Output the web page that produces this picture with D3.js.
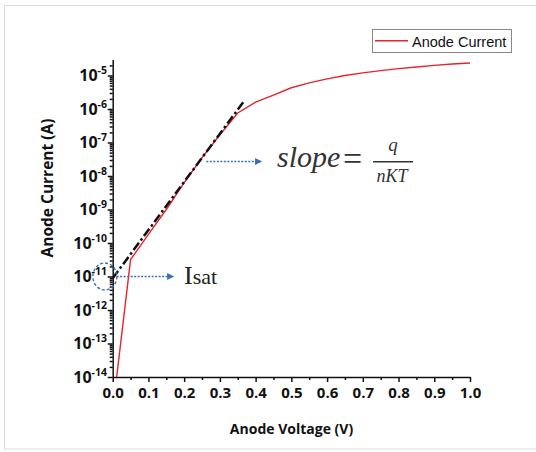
<!DOCTYPE html>
<html>
<head>
<meta charset="utf-8">
<script src="https://cdnjs.cloudflare.com/ajax/libs/d3/7.8.5/d3.min.js"></script>
<style>
body { margin: 0; background: #fff; }
svg { display: block; }
</style>
</head>
<body>
<div id="chart"></div>
<script>
// anode voltage (V) and measured anode current (A)
var voltage = [0, 0.05, 0.10, 0.15, 0.20, 0.25, 0.30, 0.35, 0.40, 0.45, 0.50,
               0.55, 0.60, 0.65, 0.70, 0.75, 0.80, 0.85, 0.90, 0.95, 1.00];
var current = [1e-15, 3.2e-11, 1.8e-10, 1.0e-9, 6.3e-9, 3.5e-8, 1.7e-7, 7.6e-7, 1.6e-6, 2.6e-6, 4.3e-6,
               6.0e-6, 7.9e-6, 1.0e-5, 1.2e-5, 1.4e-5, 1.6e-5, 1.8e-5, 2.0e-5, 2.2e-5, 2.35e-5];

// straight-line fit of the exponential region
var fitVoltage = [0, 0.37];
var fitCurrent = [8.9e-12, 1.86e-6];

// annotation arrows (data coords)
var isatVoltage = [0.011, 0.17];
var isatCurrent = 1e-11;
var slopeVoltage = [0.262, 0.416];
var slopeCurrent = 2.7e-8;

var xTicks = [0, 0.1, 0.2, 0.3, 0.4, 0.5, 0.6, 0.7, 0.8, 0.9, 1.0];
var yExponents = [-14, -13, -12, -11, -10, -9, -8, -7, -6, -5];
var seriesName = "Anode Current";

var width = 536, height = 452;
// plot area edges (note: "top" is taken by window.top, so prefix them)
var plotLeft = 112.7, plotRight = 470, plotTop = 59.5, plotBottom = 377;

var svg = d3.select("#chart").append("svg")
    .attr("width", width)
    .attr("height", height);

// light frame round the picture
svg.append("rect")
    .attr("x", 4.5).attr("y", 5.5)
    .attr("width", 540).attr("height", 443.5)
    .attr("fill", "none")
    .attr("stroke", "#dcdcdc");

var x = d3.scaleLinear().domain([0, 1]).range([plotLeft, plotRight]);
var y = d3.scaleLog().domain([1e-14, 3e-5]).range([plotBottom, plotTop]);

var defs = svg.append("defs");
defs.append("clipPath").attr("id", "plot")
  .append("rect")
    .attr("x", plotLeft).attr("y", plotTop)
    .attr("width", plotRight - plotLeft).attr("height", plotBottom - plotTop);

defs.append("marker")
    .attr("id", "arrow")
    .attr("viewBox", "0 0 10 10")
    .attr("refX", 9).attr("refY", 5)
    .attr("markerWidth", 5).attr("markerHeight", 5)
    .attr("markerUnits", "strokeWidth")
    .attr("orient", "auto")
  .append("path")
    .attr("d", "M0,0L10,5L0,10z")
    .attr("fill", "#3b70ad");

// minor ticks
var xMinor = xTicks.slice(0, -1).map(function(d) { return d + 0.05; });
var yMinor = [];
yExponents.forEach(function(e) {
  for (var m = 2; m <= 9; m++) {
    var v = m * Math.pow(10, e);
    if (v <= 3e-5) yMinor.push(v);
  }
});

svg.append("g")
    .attr("transform", "translate(0," + plotBottom + ")")
    .call(d3.axisBottom(x).tickValues(xMinor).tickSize(3).tickFormat(""))
    .call(function(g) { g.select(".domain").remove(); });

svg.append("g")
    .attr("transform", "translate(" + plotLeft + ",0)")
    .call(d3.axisLeft(y).tickValues(yMinor).tickSize(3).tickFormat(""))
    .call(function(g) { g.select(".domain").remove(); });

// x axis
var xAxis = svg.append("g")
    .attr("transform", "translate(0," + plotBottom + ")")
    .call(d3.axisBottom(x).tickValues(xTicks).tickSize(5).tickSizeOuter(0).tickFormat(d3.format(".1f")));
xAxis.selectAll("text")
    .attr("y", 10)
    .style("font-family", "'Open Sans', sans-serif")
    .style("font-weight", "bold")
    .style("font-size", "15px")
    .attr("fill", "#111");

// y axis, labels drawn as 10 with superscript
var yAxis = svg.append("g")
    .attr("transform", "translate(" + plotLeft + ",0)")
    .call(d3.axisLeft(y).tickValues(yExponents.map(function(e) { return Math.pow(10, e); }))
      .tickSize(5).tickSizeOuter(0).tickFormat(""));

svg.selectAll("path.domain, .tick line")
    .attr("stroke", "#111")
    .attr("stroke-width", 1.5);

var yLab = svg.append("g").selectAll("text")
    .data(yExponents)
  .enter().append("text")
    .attr("x", 107)
    .attr("y", function(d) { return y(Math.pow(10, d)); })
    .attr("dy", "0.36em")
    .attr("text-anchor", "end")
    .style("font-family", "'Open Sans', sans-serif")
    .style("font-weight", "bold")
    .style("font-size", "16px")
    .attr("fill", "#111");
yLab.append("tspan").text("10");
yLab.append("tspan")
    .attr("dy", -7)
    .style("font-size", "10.5px")
    .text(function(d) { return "-" + (-d); });

// axis titles
svg.append("text")
    .attr("x", 291.5).attr("y", 434)
    .attr("text-anchor", "middle")
    .style("font-family", "'Open Sans', sans-serif")
    .style("font-weight", "bold")
    .style("font-size", "14px")
    .attr("fill", "#111")
    .text("Anode Voltage (V)");

svg.append("text")
    .attr("transform", "translate(53,188) rotate(-90)")
    .attr("text-anchor", "middle")
    .style("font-family", "'Open Sans', sans-serif")
    .style("font-weight", "bold")
    .style("font-size", "15.5px")
    .attr("fill", "#111")
    .text("Anode Current (A)");

// data line
var pts = voltage.map(function(v, i) { return [v, current[i]]; });
var line = d3.line()
    .x(function(d) { return x(d[0]); })
    .y(function(d) { return y(d[1]); });

svg.append("path")
    .datum(pts)
    .attr("clip-path", "url(#plot)")
    .attr("fill", "none")
    .attr("stroke", "#e8232b")
    .attr("stroke-width", 1.4)
    .attr("d", line);

// fitted dash-dot line
svg.append("path")
    .datum(fitVoltage.map(function(v, i) { return [v, fitCurrent[i]]; }))
    .attr("fill", "none")
    .attr("stroke", "#111")
    .attr("stroke-width", 2.5)
    .attr("stroke-dasharray", "9,3,2.5,3")
    .attr("d", line);

// Isat circle + arrow
svg.append("ellipse")
    .attr("cx", x(-0.022)).attr("cy", y(isatCurrent))
    .attr("rx", 12).attr("ry", 13.5)
    .attr("fill", "none")
    .attr("stroke", "#3b70ad")
    .attr("stroke-width", 1.4)
    .attr("stroke-dasharray", "3,2");

svg.append("line")
    .attr("x1", x(isatVoltage[0])).attr("x2", x(isatVoltage[1]))
    .attr("y1", y(isatCurrent)).attr("y2", y(isatCurrent))
    .attr("stroke", "#3b70ad")
    .attr("stroke-width", 1.4)
    .attr("stroke-dasharray", "2,1.5")
    .attr("marker-end", "url(#arrow)");

var isat = svg.append("text")
    .attr("x", 184).attr("y", 284)
    .style("font-family", "'Liberation Serif', serif")
    .attr("fill", "#222");
isat.append("tspan").style("font-size", "26px").text("I");
isat.append("tspan").style("font-size", "22px").text("sat");

// slope arrow + formula
svg.append("line")
    .attr("x1", x(slopeVoltage[0])).attr("x2", x(slopeVoltage[1]))
    .attr("y1", y(slopeCurrent)).attr("y2", y(slopeCurrent))
    .attr("stroke", "#3b70ad")
    .attr("stroke-width", 1.4)
    .attr("stroke-dasharray", "2,1.5")
    .attr("marker-end", "url(#arrow)");

var serif = "'Liberation Serif', serif";
svg.append("text")
    .attr("x", 277).attr("y", 167)
    .style("font-family", serif).style("font-style", "italic").style("font-size", "30px")
    .attr("fill", "#333")
    .text("slope");
svg.append("text")
    .attr("x", 343).attr("y", 170)
    .style("font-family", serif).style("font-size", "34px")
    .attr("fill", "#333")
    .text("=");
svg.append("line")
    .attr("x1", 373).attr("x2", 413)
    .attr("y1", 161.7).attr("y2", 161.7)
    .attr("stroke", "#333").attr("stroke-width", 1.4);
svg.append("text")
    .attr("x", 393).attr("y", 151)
    .attr("text-anchor", "middle")
    .style("font-family", serif).style("font-style", "italic").style("font-size", "19px")
    .attr("fill", "#333")
    .text("q");
svg.append("text")
    .attr("x", 392).attr("y", 181.7)
    .attr("text-anchor", "middle")
    .style("font-family", serif).style("font-style", "italic").style("font-size", "18px")
    .attr("fill", "#333")
    .text("nKT");

// legend
var legend = svg.append("g");
legend.append("rect")
    .attr("x", 372.5).attr("y", 29.5)
    .attr("width", 139).attr("height", 23)
    .attr("fill", "#fff")
    .attr("stroke", "#888");
legend.append("line")
    .attr("x1", 375).attr("x2", 408)
    .attr("y1", 40.7).attr("y2", 40.7)
    .attr("stroke", "#e8232b")
    .attr("stroke-width", 1.4);
legend.append("text")
    .attr("x", 412).attr("y", 46.5)
    .style("font-family", "'Liberation Sans', Arial, sans-serif")
    .style("font-size", "14.5px")
    .attr("fill", "#111")
    .text(seriesName);
</script>
</body>
</html>
